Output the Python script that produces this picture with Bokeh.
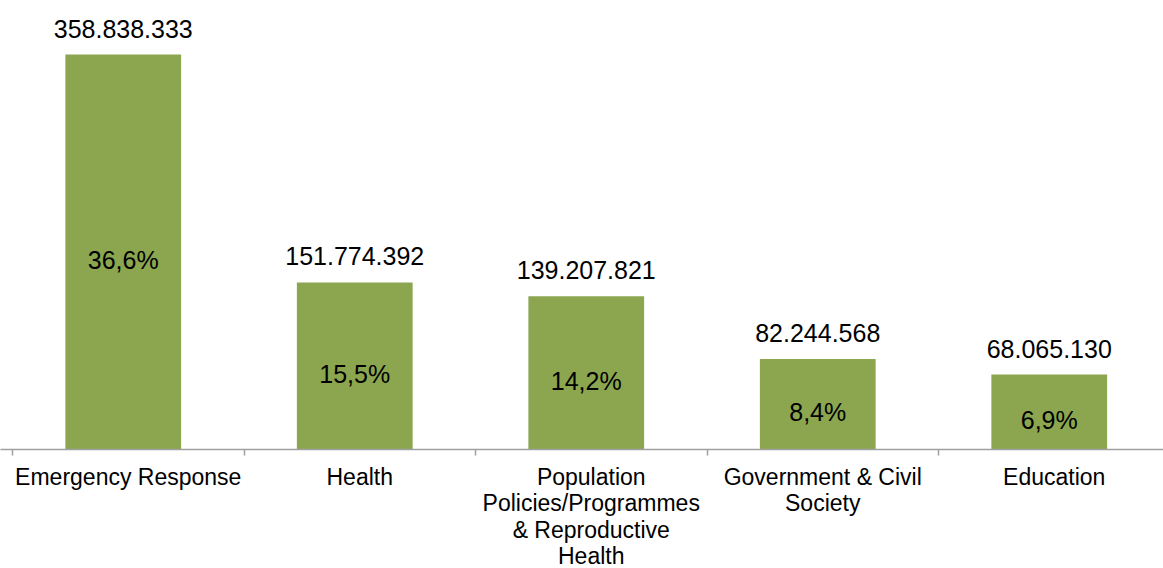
from bokeh.plotting import figure
from bokeh.models import ColumnDataSource, Range1d, FixedTicker
from bokeh.transform import dodge
from bokeh.core.properties import value
from bokeh.embed import file_html
from bokeh.resources import INLINE

# ---- data ----
categories = ["Emergency Response", "Health",
              "Population Policies/Programmes & Reproductive Health",
              "Government & Civil Society", "Education"]
tick_labels = ["Emergency Response", "Health",
               "Population\nPolicies/Programmes\n& Reproductive\nHealth",
               "Government & Civil\nSociety", "Education"]
amounts = [358838333, 151774392, 139207821, 82244568, 68065130]
shares = [36.6, 15.5, 14.2, 8.4, 6.9]

FONT = "Liberation Sans"
BAR = "#8BA64F"

n = len(categories)
xs = [i + 0.5 for i in range(n)]
amount_labels = ["{:,}".format(v).replace(",", ".") for v in amounts]
share_labels = [("%.1f%%" % s).replace(".", ",") for s in shares]
mid = [v / 2 for v in amounts]

src = ColumnDataSource(dict(x=xs, top=amounts, mid=mid,
                            amt=amount_labels, pct=share_labels))

unit = 231.5  # px per category
p = figure(frame_width=1163, frame_height=449, output_backend="svg",
           toolbar_location=None,
           x_range=Range1d(-12 / unit, (1163 - 12) / unit),
           y_range=Range1d(0, max(amounts) * 449 / 395),
           min_border_left=0, min_border_right=0, min_border_top=0,
           min_border_bottom=0, outline_line_color=None)

xd = dodge("x", -5 / unit, range=p.x_range)
p.vbar(x=xd, top="top", width=0.5, source=src, fill_color=BAR, line_color=None)

p.text(x=xd, y="top", text="amt", source=src, text_align="center",
       text_baseline="alphabetic", y_offset=-26, text_font=value(FONT),
       text_font_size="25px", text_color="#000000")
p.text(x=xd, y="mid", text="pct", source=src, text_align="center",
       text_baseline="middle", y_offset=8, text_font=value(FONT),
       text_font_size="25px", text_color="#000000")

p.yaxis.visible = False
p.grid.visible = False

ax = p.xaxis[0]
ax.ticker = FixedTicker(ticks=xs, minor_ticks=list(range(n + 1)))
ax.major_label_overrides = {x: lab for x, lab in zip(xs, tick_labels)}
ax.major_tick_line_color = None
ax.minor_tick_line_color = "#A0A0A0"
ax.minor_tick_out = 6
ax.minor_tick_in = 0
ax.axis_line_color = "#A0A0A0"
ax.axis_line_width = 1.5
ax.minor_tick_line_width = 1.5
ax.major_label_text_font = FONT
ax.major_label_text_font_size = "23px"
ax.major_label_text_line_height = 1.02
ax.major_label_text_color = "#000000"
ax.major_label_standoff = 8
ax.major_label_orientation = "horizontal"

open("out.html", "w").write(file_html(p, INLINE))
